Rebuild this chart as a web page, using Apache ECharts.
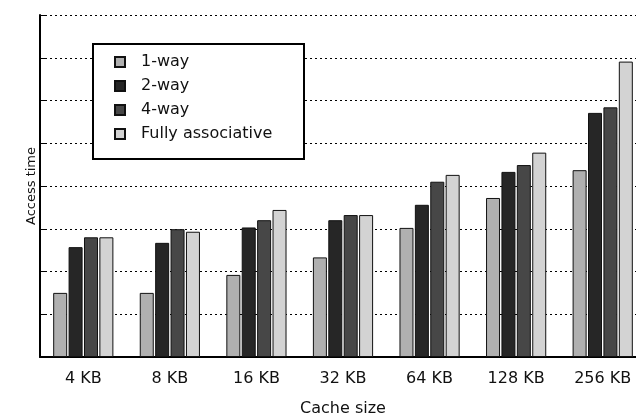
<!DOCTYPE html>
<html>
<head>
<meta charset="utf-8">
<script src="https://cdn.jsdelivr.net/npm/echarts@6/dist/echarts.min.js"></script>
<style>html,body{margin:0;padding:0;background:#fff;overflow:hidden;}#c{width:636px;height:416px;}</style>
</head>
<body>
<div id="c"></div>
<script>
var categories = ['4 KB', '8 KB', '16 KB', '32 KB', '64 KB', '128 KB', '256 KB'];
var seriesNames = ['1-way', '2-way', '4-way', 'Fully associative'];
var oneWay = [1.50, 1.50, 1.92, 2.33, 3.02, 3.72, 4.37];
var twoWay = [2.57, 2.67, 3.03, 3.20, 3.56, 4.33, 5.71];
var fourWay = [2.80, 2.99, 3.20, 3.32, 4.10, 4.49, 5.84];
var fullyAssoc = [2.80, 2.93, 3.44, 3.32, 4.26, 4.78, 6.91];
var yMin = 0, yMax = 8, yInterval = 1;

var colors = ['#b0b0b0', '#262626', '#474747', '#d3d3d3'];
var values = [oneWay, twoWay, fourWay, fullyAssoc];
var font = '"DejaVu Sans", Verdana, sans-serif';

var chart = echarts.init(document.getElementById('c'));
chart.setOption({
  animation: false,
  backgroundColor: '#fff',
  grid: { left: 40, width: 606, top: 15, height: 342, containLabel: false, outerBoundsMode: 'none' },
  graphic: [{
    type: 'rect', left: 92, top: 43, z: 10,
    shape: { width: 211, height: 115 },
    style: { fill: '#fff', stroke: '#000', lineWidth: 2 }
  }],
  legend: {
    orient: 'vertical', left: 109, top: 49, z: 20,
    itemWidth: 10, itemHeight: 10, itemGap: 8,
    icon: 'rect',
    textStyle: { fontFamily: font, fontSize: 16, lineHeight: 14, color: '#111', padding: [0, 0, 0, 11] },
    data: seriesNames
  },
  xAxis: {
    type: 'category', data: categories,
    name: 'Cache size', nameLocation: 'middle', nameGap: 44,
    nameTextStyle: { fontFamily: font, fontSize: 16, color: '#111' },
    axisLine: { lineStyle: { color: '#000', width: 2 } },
    axisTick: { inside: true, length: 5, lineStyle: { color: '#000' } },
    axisLabel: { fontFamily: font, fontSize: 16, color: '#111', margin: 14 }
  },
  yAxis: {
    type: 'value', min: yMin, max: yMax, interval: yInterval,
    name: 'Access time', nameLocation: 'middle', nameGap: 2,
    nameTextStyle: { fontFamily: font, fontSize: 13, color: '#111' },
    axisLine: { show: true, lineStyle: { color: '#000', width: 2 } },
    axisTick: { show: true, inside: true, length: 5, lineStyle: { color: '#000' } },
    axisLabel: { show: false },
    splitLine: { lineStyle: { color: '#000', type: [2, 3], width: 1 } }
  },
  series: values.map(function (v, i) {
    return {
      name: seriesNames[i], type: 'bar', data: v,
      barWidth: 14, barGap: '10%',
      itemStyle: { color: colors[i], borderColor: '#111', borderWidth: 1 }
    };
  })
});
</script>
</body>
</html>
